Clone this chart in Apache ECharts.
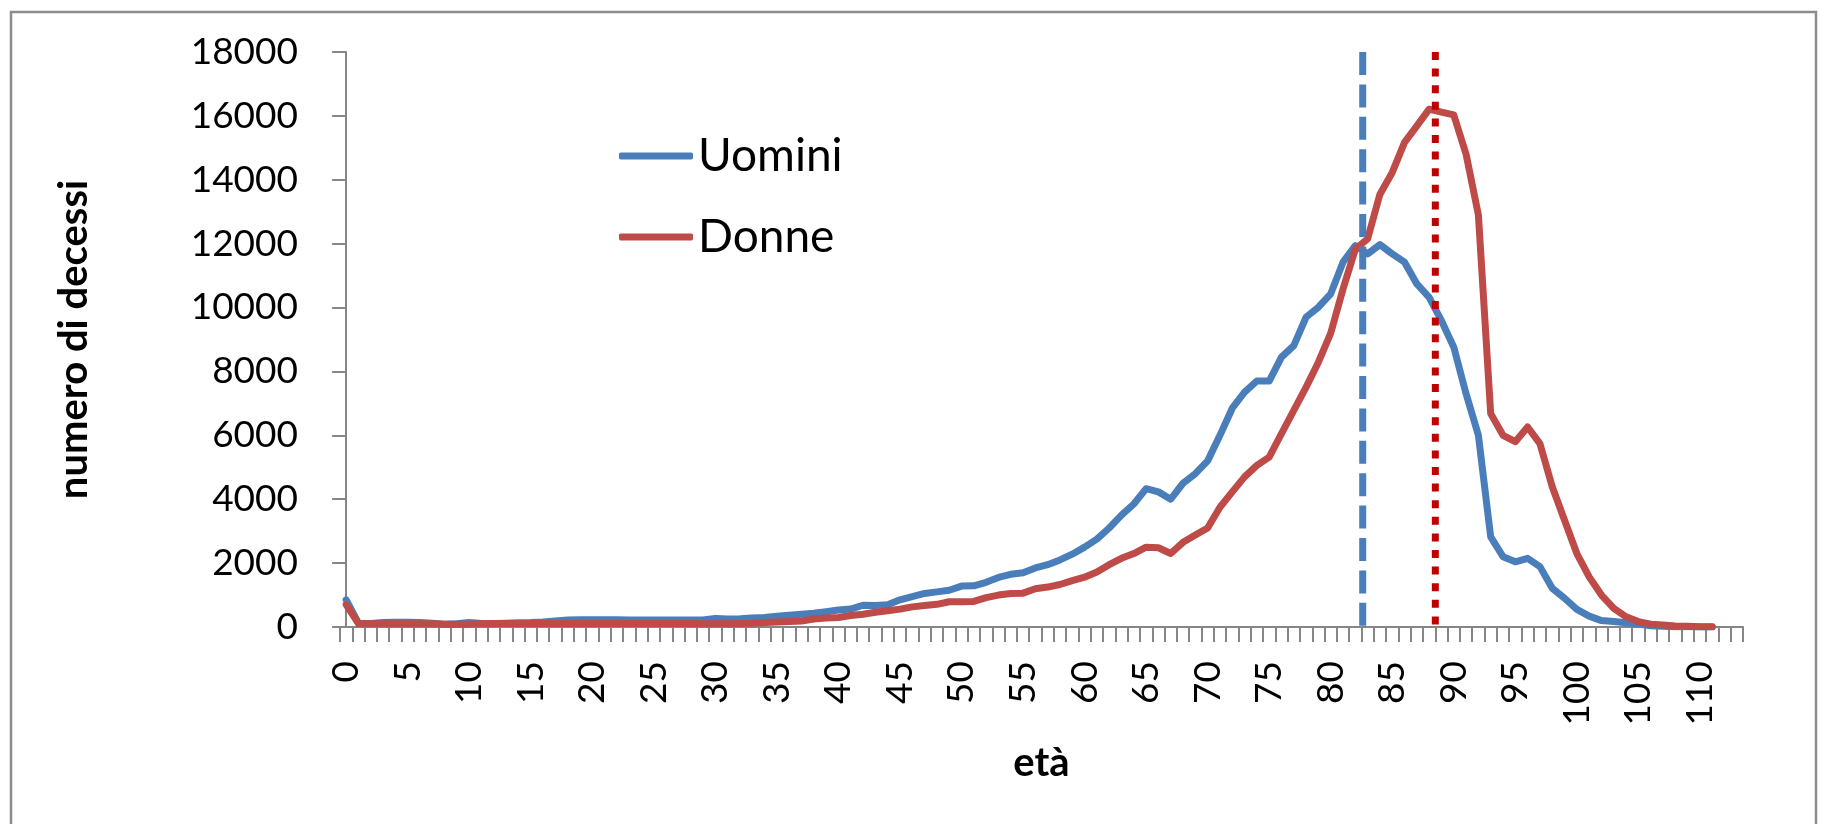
<!DOCTYPE html>
<html>
<head>
<meta charset="utf-8">
<title>decessi per età</title>
<script src="https://cdn.jsdelivr.net/npm/echarts@6/dist/echarts.min.js"></script>
<style>
  html, body { margin: 0; padding: 0; background: #fff; }
  #chart { width: 1823px; height: 824px; }
</style>
</head>
<body>
<div id="chart"></div>
<script>
  // età (categorie dell'asse x)
  const eta = [
    '0','1','2','3','4','5','6','7','8','9','10','11','12','13','14','15','16','17','18','19',
    '20','21','22','23','24','25','26','27','28','29','30','31','32','33','34','35','36','37','38','39',
    '40','41','42','43','44','45','46','47','48','49','50','51','52','53','54','55','56','57','58','59',
    '60','61','62','63','64','65','66','67','68','69','70','71','72','73','74','75','76','77','78','79',
    '80','81','82','83','84','85','86','87','88','89','90','91','92','93','94','95','96','97','98','99',
    '100','101','102','103','104','105','106','107','108','109','110','111','112','113'
  ];

  const uomini = [
    850, 120, 110, 140, 150, 150, 140, 120, 90, 100,
    140, 110, 110, 120, 130, 140, 160, 190, 220, 230,
    230, 230, 230, 220, 220, 220, 220, 220, 220, 220,
    270, 250, 260, 280, 300, 340, 370, 400, 430, 480,
    530, 560, 680, 670, 700, 850, 950, 1050, 1100, 1150,
    1280, 1290, 1400, 1550, 1650, 1700, 1850, 1950, 2100, 2280,
    2500, 2750, 3100, 3500, 3850, 4330, 4230, 4000, 4500, 4800,
    5200, 6000, 6850, 7350, 7700, 7700, 8450, 8810, 9700, 10010,
    10430, 11420, 11940, 11680, 11970, 11680, 11420, 10740, 10320, 9590,
    8760, 7300, 6000, 2820, 2200, 2040, 2150, 1890, 1210, 900,
    550, 340, 200, 170, 135, 90, 40, 20, 10, 5,
    2, 1
  ];

  const donne = [
    700, 110, 100, 100, 100, 100, 100, 100, 90, 90,
    90, 100, 110, 110, 110, 110, 110, 110, 110, 110,
    110, 110, 110, 110, 110, 110, 110, 110, 110, 100,
    100, 100, 110, 120, 140, 160, 170, 190, 250, 280,
    300, 360, 400, 460, 510, 560, 630, 670, 710, 790,
    790, 800, 920, 1000, 1050, 1060, 1200, 1250, 1330, 1450,
    1560, 1720, 1950, 2150, 2300, 2500, 2480, 2300, 2650, 2880,
    3100, 3750, 4230, 4700, 5060, 5320, 6050, 6780, 7510, 8290,
    9200, 10580, 11830, 12150, 13550, 14230, 15170, 15690, 16210, 16120,
    16030, 14800, 12900, 6680, 6000, 5800, 6260, 5740, 4390, 3340,
    2300, 1570, 1000, 580, 320, 170, 90, 60, 30, 20,
    10, 5
  ];

  // linee verticali (età di riferimento)
  const lineaUomini = 82.6;
  const lineaDonne = 88.5;

  const yMax = 18000;
  const yStep = 2000;

  const font = 'Lato, "Open Sans", sans-serif';
  const grigio = '#868686';
  const blu = '#4A7EBB';
  const rosso = '#BE4B48';

  let chart = echarts.init(document.getElementById('chart'));

  chart.setOption({
    animation: false,
    backgroundColor: '#fff',
    textStyle: { fontFamily: font, color: '#000' },
    graphic: [{
      type: 'rect',
      shape: { x: 11, y: 12, width: 1805, height: 830 },
      style: { fill: 'none', stroke: '#8c8c8c', lineWidth: 2.5 },
      silent: true
    }],
    legend: {
      data: ['Uomini', 'Donne'],
      orient: 'vertical',
      left: 614,
      top: 128,
      itemWidth: 74,
      itemHeight: 7,
      itemGap: 35,
      icon: 'roundRect',
      textStyle: { fontFamily: font, fontSize: 46, color: '#000' }
    },
    grid: {
      left: 340,
      right: 80,
      top: 52,
      bottom: 197,
      outerBoundsMode: 'none'
    },
    xAxis: [{
      type: 'category',
      data: eta,
      boundaryGap: true,
      name: 'età',
      nameLocation: 'middle',
      nameGap: 116,
      nameTextStyle: { fontFamily: font, fontSize: 40, fontWeight: 'bold', color: '#000' },
      axisLine: { lineStyle: { color: grigio, width: 2 } },
      axisTick: { show: true, interval: 0, length: 15, lineStyle: { color: grigio, width: 2 } },
      axisLabel: {
        interval: 4,
        rotate: 90,
        margin: 34,
        fontFamily: font,
        fontSize: 37,
        color: '#000'
      },
      splitLine: { show: false }
    }, {
      // asse nascosto per posizionare le linee verticali
      type: 'value',
      min: -0.5,
      max: eta.length - 0.5,
      show: false
    }],
    yAxis: {
      type: 'value',
      min: 0,
      max: yMax,
      interval: yStep,
      name: 'numero di decessi',
      nameLocation: 'middle',
      nameGap: 246,
      nameTextStyle: { fontFamily: font, fontSize: 40, fontWeight: 'bold', color: '#000' },
      axisLine: { show: true, lineStyle: { color: grigio, width: 2 } },
      axisTick: { show: true, length: 14, lineStyle: { color: grigio, width: 2 } },
      axisLabel: {
        margin: 42,
        fontFamily: font,
        fontSize: 37,
        color: '#000',
        formatter: function (v) { return String(v); }
      },
      splitLine: { show: false }
    },
    series: [
      {
        name: 'Uomini',
        type: 'line',
        data: uomini,
        showSymbol: false,
        symbol: 'none',
        color: blu,
        lineStyle: { color: blu, width: 7, cap: 'round', join: 'round' },
        z: 2
      },
      {
        name: 'Donne',
        type: 'line',
        data: donne,
        showSymbol: false,
        symbol: 'none',
        color: rosso,
        lineStyle: { color: rosso, width: 7, cap: 'round', join: 'round' },
        z: 3
      },
      {
        name: 'lineaUomini',
        type: 'line',
        xAxisIndex: 1,
        data: [[lineaUomini, yMax], [lineaUomini, 0]],
        symbol: 'none',
        silent: true,
        lineStyle: { color: blu, width: 7, type: [23, 9.4], cap: 'butt' },
        z: 4
      },
      {
        name: 'lineaDonne',
        type: 'line',
        xAxisIndex: 1,
        data: [[lineaDonne, yMax], [lineaDonne, 0]],
        symbol: 'none',
        silent: true,
        lineStyle: { color: '#C00000', width: 7, type: [8, 8.6], cap: 'butt' },
        z: 4
      }
    ]
  });
</script>
</body>
</html>
